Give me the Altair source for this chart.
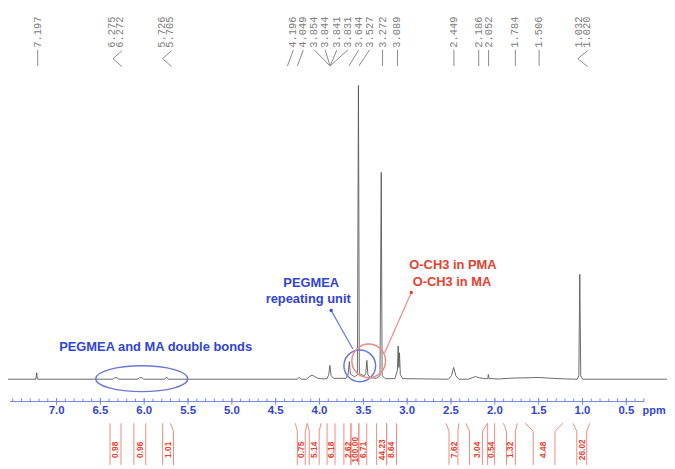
import altair as alt
import pandas as pd

# ---------------- data ----------------
# spectrum vertices (ppm, relative intensity; tallest peak = 100)
spec_ppm = [7.554, 7.236, 7.227, 7.218,
            6.36, 6.34, 6.31, 6.29,
            6.075, 6.055, 6.025, 6.005,
            5.765, 5.752, 5.738, 5.725,
            4.255, 4.232, 4.21,
            4.15, 4.11, 4.085, 4.06, 4.02, 3.96,
            3.915, 3.895, 3.882, 3.868, 3.84,
            3.70, 3.675, 3.66, 3.648, 3.60,
            3.568, 3.556, 3.546,
            3.49, 3.472, 3.46, 3.448, 3.42,
            3.35, 3.31, 3.296, 3.286, 3.25,
            3.14, 3.112, 3.103, 3.095, 3.088, 3.078, 3.05,
            2.53, 2.495, 2.47, 2.445, 2.41,
            2.30, 2.25, 2.22, 2.18, 2.12,
            2.08, 2.074, 2.067,
            1.95, 1.78, 1.60, 1.50, 1.40, 1.20,
            1.06, 1.042, 1.031, 1.02, 1.00,
            0.036]
spec_int = [0, 0, 2.2, 0,
            0, 0.45, 0.5, 0,
            0, 0.5, 0.5, 0,
            0, 0.6, 0.6, 0,
            0, 0.6, 0,
            0, 1.0, 1.35, 1.0, 0.3, 0.1,
            0.2, 1.5, 4.7, 1.2, 0.3,
            0.3, 1.5, 6.0, 1.8, 0.8,
            1.5, 100, 2.0,
            1.0, 2.0, 6.4, 1.5, 0.5,
            0.3, 1.2, 70.4, 1.2, 0.2,
            0.2, 3.0, 11.3, 4.0, 9.0, 1.5, 0.2,
            0, 1.2, 4.0, 1.2, 0,
            0, 0.6, 0.9, 0.5, 0.2,
            0.2, 1.6, 0.2,
            0.1, 0.4, 0.5, 0.6, 0.4, 0.1,
            0, 1.2, 35.7, 1.2, 0,
            0]

# peak picking labels
peak_text = ["7.197", "4.196", "4.049", "3.854", "3.844", "3.841", "3.831",
             "3.644", "3.527", "3.272", "3.089", "2.449", "2.186", "2.052",
             "1.784", "1.506"]
peak_label_pos = [7.215, 4.298, 4.185, 4.061, 3.936, 3.801, 3.676,
                  3.552, 3.428, 3.281, 3.111, 2.467, 2.184, 2.071,
                  1.766, 1.495]
peak_foot_pos = [7.215, 4.366, 4.253, 3.880, 3.880, 3.880, 3.880,
                 3.665, 3.552, 3.281, 3.111, 2.467, 2.184, 2.071,
                 1.766, 1.495]
pair_text = [("6.275", "6.272"), ("5.726", "5.705"), ("1.032", "1.020")]
pair_label_pos = [(6.367, 6.277), (5.802, 5.711), (1.042, 0.952)]
pair_bracket = [(6.356, 6.254), (5.790, 5.689), (1.054, 0.941)]

# integrals
int_values = ["0.98", "0.96", "1.01", "0.75", "5.14", "6.18", "2.62", "100.00",
              "6.71", "44.23", "8.64", "7.62", "3.04", "0.54", "1.32", "4.48", "26.02"]
int_from = [6.390, 6.118, 5.790, 4.276, 4.140, 3.914, 3.722, 3.642,
            3.552, 3.349, 3.235, 2.557, 2.331, 2.082, 1.902, 1.653, 1.110]
int_to = [6.265, 5.983, 5.700, 4.140, 3.982, 3.823, 3.642, 3.552,
          3.462, 3.235, 3.122, 2.410, 2.082, 2.003, 1.743, 1.223, 0.918]
int_label_from = [6.390, 6.118, 5.790, 4.253, 4.117, 3.914, 3.722, 3.642,
                  3.552, 3.349, 3.235, 2.523, 2.289, 2.082, 1.867, 1.562, 1.065]
int_label_to = [6.265, 5.983, 5.666, 4.163, 4.004, 3.823, 3.642, 3.552,
                3.462, 3.235, 3.122, 2.421, 2.142, 2.003, 1.766, 1.314, 0.952]
int_label_pos = [6.333, 6.050, 5.734, 4.208, 4.061, 3.869, 3.676, 3.597,
                 3.507, 3.292, 3.179, 2.467, 2.207, 2.048, 1.822, 1.449, 1.008]

# ppm axis
tick_labels = [7.0, 6.5, 6.0, 5.5, 5.0, 4.5, 4.0, 3.5, 3.0, 2.5, 2.0, 1.5, 1.0, 0.5]
minor_ticks = [round(7.5 - 0.1 * i, 1) for i in range(73)]

# ---------------- layout ----------------
W, H = 665, 459
YMIN, YMAX = -29.17, 125.63
xs = alt.Scale(domain=[0.036, 7.554], reverse=True, nice=False, zero=False)
ys = alt.Scale(domain=[YMIN, YMAX], nice=False, zero=False)

BLUE = "#2f44d8"
BLUE_LINE = "#6a79d8"
RED = "#e6402f"
RED_LINE = "#f08a80"
GREY = "#808080"


def enc(**kw):
    d = dict(x=alt.X("x:Q", scale=xs, axis=None), y=alt.Y("y:Q", scale=ys, axis=None))
    if "x2" in kw:
        d["x2"] = alt.X2("x2:Q")
    if "y2" in kw:
        d["y2"] = alt.Y2("y2:Q")
    return d


layers = []

# spectrum
spec_df = pd.DataFrame({"x": spec_ppm, "y": spec_int, "i": range(len(spec_ppm))})
layers.append(alt.Chart(spec_df).mark_line(color="#5a5a5a", strokeWidth=0.9).encode(
    **enc(), order="i:Q"))

# ppm axis line and ticks
AX_Y = -7.59
axis_df = pd.DataFrame({"x": [7.53], "x2": [0.296], "y": [AX_Y], "y2": [AX_Y]})
layers.append(alt.Chart(axis_df).mark_rule(color="#7487e0", strokeWidth=1).encode(**enc(x2=1, y2=1)))
minor_df = pd.DataFrame({"x": minor_ticks, "x2": minor_ticks,
                         "y": [AX_Y] * len(minor_ticks), "y2": [AX_Y + 1.0] * len(minor_ticks)})
layers.append(alt.Chart(minor_df).mark_rule(color="#7487e0", strokeWidth=1).encode(**enc(x2=1, y2=1)))
major_df = pd.DataFrame({"x": tick_labels, "x2": tick_labels,
                         "y": [AX_Y - 1.1] * len(tick_labels), "y2": [AX_Y + 1.2] * len(tick_labels)})
layers.append(alt.Chart(major_df).mark_rule(color="#7487e0", strokeWidth=1).encode(**enc(x2=1, y2=1)))
tl_df = pd.DataFrame({"x": tick_labels, "y": [-10.96] * len(tick_labels),
                      "t": [f"{v:.1f}" for v in tick_labels]})
layers.append(alt.Chart(tl_df).mark_text(color=BLUE, font="Liberation Sans", fontWeight="bold",
                                         fontSize=11.5, baseline="middle").encode(**enc(), text="t:N"))
ppm_df = pd.DataFrame({"x": [0.183], "y": [-10.96], "t": ["ppm"]})
layers.append(alt.Chart(ppm_df).mark_text(color=BLUE, font="Liberation Sans", fontWeight="bold",
                                          fontSize=11, baseline="middle").encode(**enc(), text="t:N"))

# peak labels
LBL_Y, CON_TOP, CON_BOT = 112.8, 112.1, 106.6
all_text = list(peak_text)
all_pos = list(peak_label_pos)
for (a, b), (pa, pb) in zip(pair_text, pair_label_pos):
    all_text += [a, b]
    all_pos += [pa, pb]
pl_df = pd.DataFrame({"x": all_pos, "y": [LBL_Y] * len(all_pos), "t": all_text})
layers.append(alt.Chart(pl_df).mark_text(color=GREY, font="Liberation Mono", fontSize=10.5,
                                         angle=270, align="left", baseline="middle").encode(**enc(), text="t:N"))
con_rows = []
for lp, fp in zip(peak_label_pos, peak_foot_pos):
    con_rows.append({"x": lp, "y": CON_TOP, "x2": fp, "y2": CON_BOT})
for (apex, arm) in pair_bracket:
    con_rows.append({"x": arm, "y": 111.8, "x2": apex, "y2": 109.1})
    con_rows.append({"x": apex, "y": 109.1, "x2": arm, "y2": 106.4})
con_df = pd.DataFrame(con_rows)
layers.append(alt.Chart(con_df).mark_rule(color="#8a8a8a", strokeWidth=1).encode(**enc(x2=1, y2=1)))

# integrals
I_TOP, I_BEND = -15.0, -17.7
int_rows = []
for a, b, c, d in zip(int_from, int_to, int_label_from, int_label_to):
    int_rows.append({"x": a, "y": I_TOP, "x2": c, "y2": I_BEND})
    int_rows.append({"x": c, "y": I_BEND, "x2": c, "y2": YMIN})
    int_rows.append({"x": b, "y": I_TOP, "x2": d, "y2": I_BEND})
    int_rows.append({"x": d, "y": I_BEND, "x2": d, "y2": YMIN})
int_df = pd.DataFrame(int_rows)
layers.append(alt.Chart(int_df).mark_rule(color=RED_LINE, strokeWidth=1).encode(**enc(x2=1, y2=1)))
il_df = pd.DataFrame({"x": int_label_pos, "y": [-24.0] * len(int_label_pos), "t": int_values})
layers.append(alt.Chart(il_df).mark_text(color=RED, font="Liberation Sans", fontSize=8.5, fontWeight="bold",
                                         angle=270, align="center", baseline="middle").encode(**enc(), text="t:N"))

# annotations
ell_df = pd.DataFrame({"x": [6.028], "y": [0.17]})
layers.append(alt.Chart(ell_df).mark_point(
    shape="M -1 0 A 1 0.28 0 1 0 1 0 A 1 0.28 0 1 0 -1 0 Z", size=8649, filled=False,
    stroke=BLUE_LINE, strokeWidth=1.5, opacity=1).encode(**enc()))
circ_df = pd.DataFrame({"x": [3.541], "y": [4.55]})
layers.append(alt.Chart(circ_df).mark_point(shape="circle", size=1024, filled=False,
                                            stroke=BLUE_LINE, strokeWidth=1.5, opacity=1).encode(**enc()))
circ2_df = pd.DataFrame({"x": [3.439], "y": [6.24]})
layers.append(alt.Chart(circ2_df).mark_point(shape="circle", size=1156, filled=False,
                                             stroke=RED_LINE, strokeWidth=1.5, opacity=1).encode(**enc()))
bl_df = pd.DataFrame({"x": [3.868], "y": [23.44], "x2": [3.620], "y2": [10.29]})
layers.append(alt.Chart(bl_df).mark_rule(color=BLUE_LINE, strokeWidth=1.2).encode(**enc(x2=1, y2=1)))
rl_df = pd.DataFrame({"x": [3.258], "y": [8.94], "x2": [2.953], "y2": [29.51]})
layers.append(alt.Chart(rl_df).mark_rule(color=RED_LINE, strokeWidth=1.2).encode(**enc(x2=1, y2=1)))
dot_df = pd.DataFrame({"x": [3.868, 2.953], "y": [23.44, 29.51], "c": [BLUE, RED]})
layers.append(alt.Chart(dot_df).mark_point(shape="circle", size=12, filled=True, opacity=1).encode(
    **enc(), color=alt.Color("c:N", scale=None)))

ann_df = pd.DataFrame({
    "x": [5.870, 4.095, 4.129, 2.478, 2.489],
    "y": [10.96, 32.88, 27.15, 38.95, 33.22],
    "t": ["PEGMEA and MA double bonds", "PEGMEA", "repeating unit", "O-CH3 in PMA", "O-CH3 in MA"],
    "c": [BLUE, BLUE, BLUE, RED, RED],
})
layers.append(alt.Chart(ann_df).mark_text(font="Liberation Sans", fontWeight="bold", fontSize=13,
                                          baseline="middle").encode(
    **enc(), text="t:N", color=alt.Color("c:N", scale=None)))

chart = alt.layer(*layers).properties(
    width=W, height=H, autosize=alt.AutoSizeParams(type="none"), padding=0
).configure_view(stroke=None)

chart.save("out.html", embed_options={"renderer": "svg", "actions": False})
